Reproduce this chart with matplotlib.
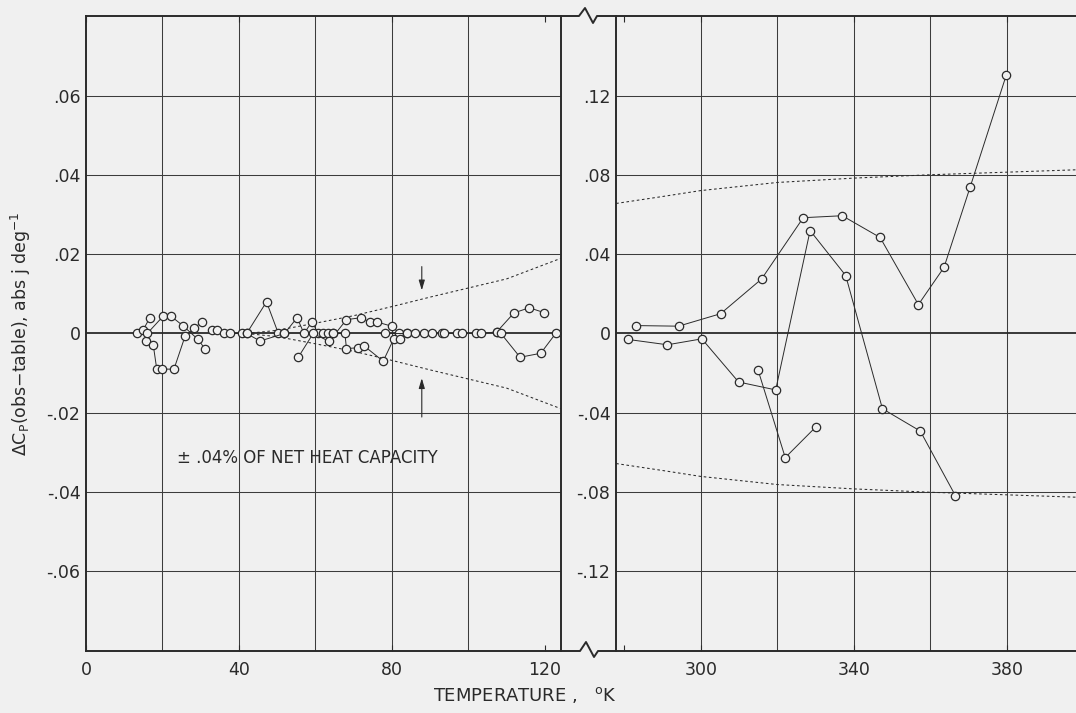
import numpy as np
import matplotlib
matplotlib.use("Agg")
import matplotlib.pyplot as plt
from matplotlib.lines import Line2D

# ---- data ----
# low-temperature panel (K, delta Cp)
low_series = [
    ([13.4, 15.0, 16.7], [0.0, 0.001, 0.004]),
    ([15.8, 17.6, 18.5, 20.0, 23.0, 25.9, 28.2, 30.4],
     [-0.002, -0.003, -0.009, -0.009, -0.009, -0.0007, 0.0013, 0.003]),
    ([16.0, 20.2, 22.2, 25.3, 29.3, 31.2],
     [0.0, 0.0044, 0.0044, 0.002, -0.0015, -0.004]),
    ([33.0, 34.3, 36.2, 37.6, 40.7, 42.0, 47.2, 50.3, 51.9],
     [0.0008, 0.001, 0.0, 0.0, 0.0, 0.0, 0.008, 0.0, 0.0]),
    ([42.0, 45.5, 51.9, 55.2, 57.0, 59.1, 60.7, 62.0, 63.3, 64.5],
     [0.0, -0.0019, 0.0, 0.004, 0.0, 0.003, 0.0, 0.0, 0.0, 0.0]),
    ([55.5, 59.4, 63.6, 68.1, 72.0, 74.3, 76.1, 80.1, 81.9],
     [-0.006, 0.0, -0.002, 0.0035, 0.004, 0.0028, 0.0029, 0.0018, 0.0]),
    ([64.5, 67.7, 68.1, 71.2, 72.8, 77.7, 80.5, 82.1, 84.0],
     [0.0, 0.0, -0.0038, -0.0036, -0.0032, -0.007, -0.0013, -0.0015, 0.0]),
    ([78.2, 84.0, 86.0, 88.4, 90.4, 93.0, 93.6, 96.9, 98.4, 102.1, 103.3, 107.4],
     [0.0, 0.0, 0.0, 0.0, 0.0, 0.0, 0.0, 0.0, 0.0, 0.0, 0.0, 0.0004]),
    ([107.4, 111.9, 115.9, 119.7], [0.0004, 0.0052, 0.0065, 0.0053]),
    ([108.5, 113.5, 118.9, 122.8], [0.0, -0.006, -0.005, 0.0]),
]
low_env_t = [42, 50, 60, 70, 80, 90, 100, 110, 124.2]
low_env_y = [0.0, 0.0008, 0.0026, 0.0045, 0.0068, 0.0092, 0.0115, 0.0138, 0.019]

# high-temperature panel
high_series = [
    ([283.1, 294.2, 305.2, 315.9, 326.8, 337.0, 346.9, 356.9, 363.6, 370.4, 379.9],
     [0.004, 0.0037, 0.010, 0.0275, 0.0585, 0.0595, 0.0485, 0.0146, 0.0334, 0.0738, 0.1307]),
    ([281.0, 291.3, 300.3, 309.9, 319.6, 328.6, 337.9, 347.5, 357.4, 366.6],
     [-0.003, -0.0057, -0.0027, -0.0245, -0.0285, 0.052, 0.0293, -0.038, -0.0493, -0.082]),
    ([315.0, 322.1, 330.2], [-0.0185, -0.0627, -0.047]),
]
high_env_t = [277.9, 290, 300, 320, 340, 360, 380, 398.1]
high_env_y = [0.0657, 0.0692, 0.0722, 0.0763, 0.0785, 0.0802, 0.0815, 0.0827]

low_xticks = [0, 40, 80, 120]
low_xgrid = [20, 40, 60, 80, 100]
low_yticks = [-0.06, -0.04, -0.02, 0, 0.02, 0.04, 0.06]
low_ylabels = ["-.06", "-.04", "-.02", "0", ".02", ".04", ".06"]

high_xticks = [280, 300, 340, 380]
high_xlabels = ["", "300", "340", "380"]
high_xgrid = [300, 320, 340, 360, 380]
high_yticks = [-0.12, -0.08, -0.04, 0, 0.04, 0.08, 0.12]
high_ylabels = ["-.12", "-.08", "-.04", "0", ".04", ".08", ".12"]

BG = "#f0f0f0"
INK = "#2a2a2a"
GRID = "#3c3c3c"
W, H = 1076, 713

plt.rcParams["font.family"] = ["DejaVu Sans"]

fig = plt.figure(figsize=(W / 100, H / 100), dpi=100, facecolor=BG)


def px_box(x0, x1, y_top, y_bot):
    return [x0 / W, 1 - y_bot / H, (x1 - x0) / W, (y_bot - y_top) / H]


ax1 = fig.add_axes(px_box(86, 561, 16, 651), facecolor=BG)
ax2 = fig.add_axes(px_box(616, 1076, 16, 651), facecolor=BG)


def style(ax, xgrid, yticks, ylabels):
    for g in xgrid:
        ax.axvline(g, color=GRID, lw=0.75, zorder=1)
    for t in yticks:
        ax.axhline(t, color=INK if t == 0 else GRID,
                   lw=1.3 if t == 0 else 0.75, zorder=1)
    ax.set_yticks(yticks)
    ax.set_yticklabels(ylabels)
    ax.tick_params(axis="y", length=0, pad=4, labelsize=12.5, colors=INK)
    ax.tick_params(axis="x", direction="in", length=4, top=True,
                   pad=7, labelsize=12.5, colors=INK, width=0.8)
    for s in ax.spines.values():
        s.set_color(INK)
        s.set_linewidth(1.4)


def draw_series(ax, series):
    for t, y in series:
        ax.plot(t, y, color=INK, lw=0.7, marker="o", ms=6.0,
                mfc=BG, mec=INK, mew=0.9, zorder=3)


# ---- left panel ----
style(ax1, low_xgrid, low_yticks, low_ylabels)
ax1.set_xlim(0, 124.2)
ax1.set_ylim(-0.0802, 0.0802)
ax1.set_xticks(low_xticks)
ax1.set_xticklabels([str(v) for v in low_xticks])
ax1.plot(low_env_t, low_env_y, color=INK, lw=0.75, ls=(0, (2.5, 2.5)), zorder=2)
ax1.plot(low_env_t, -np.array(low_env_y), color=INK, lw=0.75, ls=(0, (2.5, 2.5)), zorder=2)
draw_series(ax1, low_series)

ax1.annotate("", xy=(87.8, 0.0102), xytext=(87.8, 0.0176),
             arrowprops=dict(arrowstyle="-|>,head_length=0.6,head_width=0.18",
                             color=INK, lw=0.8))
ax1.annotate("", xy=(87.8, -0.0106), xytext=(87.8, -0.0218),
             arrowprops=dict(arrowstyle="-|>,head_length=0.6,head_width=0.18",
                             color=INK, lw=0.8))
ax1.text(23.7, -0.0314, "± .04% OF NET HEAT CAPACITY", fontsize=12,
         color=INK, ha="left", va="center")
ax1.set_ylabel(r"$\Delta$C$_{\rm P}$(obs$-$table), abs j deg$^{-1}$",
               fontsize=12.5, color=INK, labelpad=10)

# ---- right panel ----
style(ax2, high_xgrid, high_yticks, high_ylabels)
ax2.set_xlim(277.86, 398.1)
ax2.set_ylim(-0.1604, 0.1604)
ax2.set_xticks(high_xticks)
ax2.set_xticklabels(high_xlabels)
ax2.spines["right"].set_visible(False)
ax2.plot(high_env_t, high_env_y, color=INK, lw=0.75, ls=(0, (2.5, 2.5)), zorder=2)
ax2.plot(high_env_t, -np.array(high_env_y), color=INK, lw=0.75, ls=(0, (2.5, 2.5)), zorder=2)
draw_series(ax2, high_series)

# ---- axis-break zigzags between the panels ----
def zig(y0, xs, dys):
    fx = [x / W for x in xs]
    fy = [1 - (y0 - d) / H for d in dys]
    fig.add_artist(Line2D(fx, fy, color=INK, lw=1.4, transform=fig.transFigure))


zig(16, [561, 579, 585, 593, 597, 616], [0, 0, 8, -7, 0, 0])
zig(651, [561, 580, 586, 594, 598, 616], [0, 0, 9, -6, 0, 0])

fig.text(525 / W, 1 - 695 / H, "TEMPERATURE ,   $^{\\rm o}$K", fontsize=13,
         color=INK, ha="center", va="center")

fig.savefig("out.png", dpi=100, facecolor=BG)
